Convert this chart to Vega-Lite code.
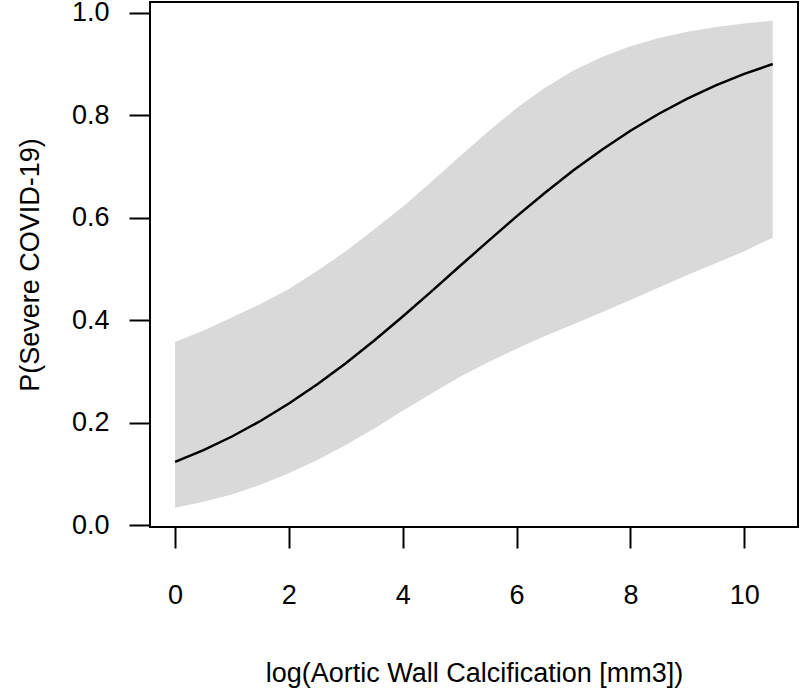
{
  "$schema": "https://vega.github.io/schema/vega-lite/v6.json",
  "width": 648,
  "height": 525,
  "autosize": {"type": "none"},
  "padding": {"left": 150, "top": 2, "right": 2, "bottom": 161},
  "background": "white",
  "view": {"stroke": "black", "strokeWidth": 2, "fill": "white"},
  "data": {"values": [
    {"x": 0, "p": 0.1239, "lo": 0.0347, "hi": 0.3576},
    {"x": 0.5, "p": 0.1471, "lo": 0.0462, "hi": 0.3804},
    {"x": 1, "p": 0.1735, "lo": 0.0606, "hi": 0.4058},
    {"x": 1.5, "p": 0.2037, "lo": 0.0792, "hi": 0.4322},
    {"x": 2, "p": 0.2378, "lo": 0.102, "hi": 0.4613},
    {"x": 2.5, "p": 0.2755, "lo": 0.1276, "hi": 0.497},
    {"x": 3, "p": 0.3165, "lo": 0.1571, "hi": 0.5349},
    {"x": 3.5, "p": 0.3608, "lo": 0.1889, "hi": 0.5776},
    {"x": 4, "p": 0.4076, "lo": 0.2237, "hi": 0.6215},
    {"x": 4.5, "p": 0.4561, "lo": 0.2571, "hi": 0.6701},
    {"x": 5, "p": 0.5055, "lo": 0.2894, "hi": 0.7195},
    {"x": 5.5, "p": 0.5545, "lo": 0.3185, "hi": 0.7683},
    {"x": 6, "p": 0.6028, "lo": 0.3446, "hi": 0.8141},
    {"x": 6.5, "p": 0.6491, "lo": 0.3694, "hi": 0.8538},
    {"x": 7, "p": 0.6928, "lo": 0.3925, "hi": 0.8872},
    {"x": 7.5, "p": 0.733, "lo": 0.4158, "hi": 0.9137},
    {"x": 8, "p": 0.7699, "lo": 0.4398, "hi": 0.9345},
    {"x": 8.5, "p": 0.8031, "lo": 0.464, "hi": 0.9506},
    {"x": 9, "p": 0.8326, "lo": 0.4885, "hi": 0.9628},
    {"x": 9.5, "p": 0.8583, "lo": 0.5115, "hi": 0.9722},
    {"x": 10, "p": 0.8807, "lo": 0.5347, "hi": 0.9793},
    {"x": 10.5, "p": 0.9, "lo": 0.5614, "hi": 0.9844}
  ]},
  "config": {
    "font": "Liberation Sans",
    "axis": {
      "grid": false,
      "domain": false,
      "tickColor": "black",
      "tickWidth": 2,
      "tickSize": 21,
      "labelFont": "Liberation Sans",
      "labelFontSize": 27,
      "labelColor": "black",
      "titleFont": "Liberation Sans",
      "titleFontSize": 27,
      "titleFontWeight": "normal",
      "titleColor": "black"
    }
  },
  "encoding": {
    "x": {
      "field": "x",
      "type": "quantitative",
      "scale": {"domain": [-0.44, 10.944], "nice": false, "zero": false},
      "axis": {
        "values": [0, 2, 4, 6, 8, 10],
        "title": "log(Aortic Wall Calcification [mm3])",
        "labelBaseline": "alphabetic",
        "labelPadding": 55,
        "labelFlush": false,
        "titleX": 324,
        "titleY": 154.5,
        "titleAlign": "center",
        "titleBaseline": "alphabetic",
        "titleAnchor": "middle"
      }
    }
  },
  "layer": [
    {
      "mark": {"type": "area", "color": "#d9d9d9", "opacity": 1},
      "encoding": {
        "y": {
          "field": "lo",
          "type": "quantitative",
          "scale": {"domain": [-0.003, 1.021], "nice": false, "zero": false},
          "axis": {
            "values": [0, 0.2, 0.4, 0.6, 0.8, 1.0],
            "format": ".1f",
            "title": "P(Severe COVID-19)",
            "labelAlign": "right",
            "labelBaseline": "middle",
            "labelPadding": 20,
            "labelFlush": false,
            "titleAngle": -90,
            "titleX": -111.7,
            "titleY": 262.5,
            "titleAlign": "center",
            "titleBaseline": "alphabetic",
            "titleAnchor": "middle"
          }
        },
        "y2": {"field": "hi"}
      }
    },
    {
      "mark": {"type": "line", "color": "black", "strokeWidth": 2.5},
      "encoding": {
        "y": {"field": "p", "type": "quantitative"}
      }
    }
  ]
}
